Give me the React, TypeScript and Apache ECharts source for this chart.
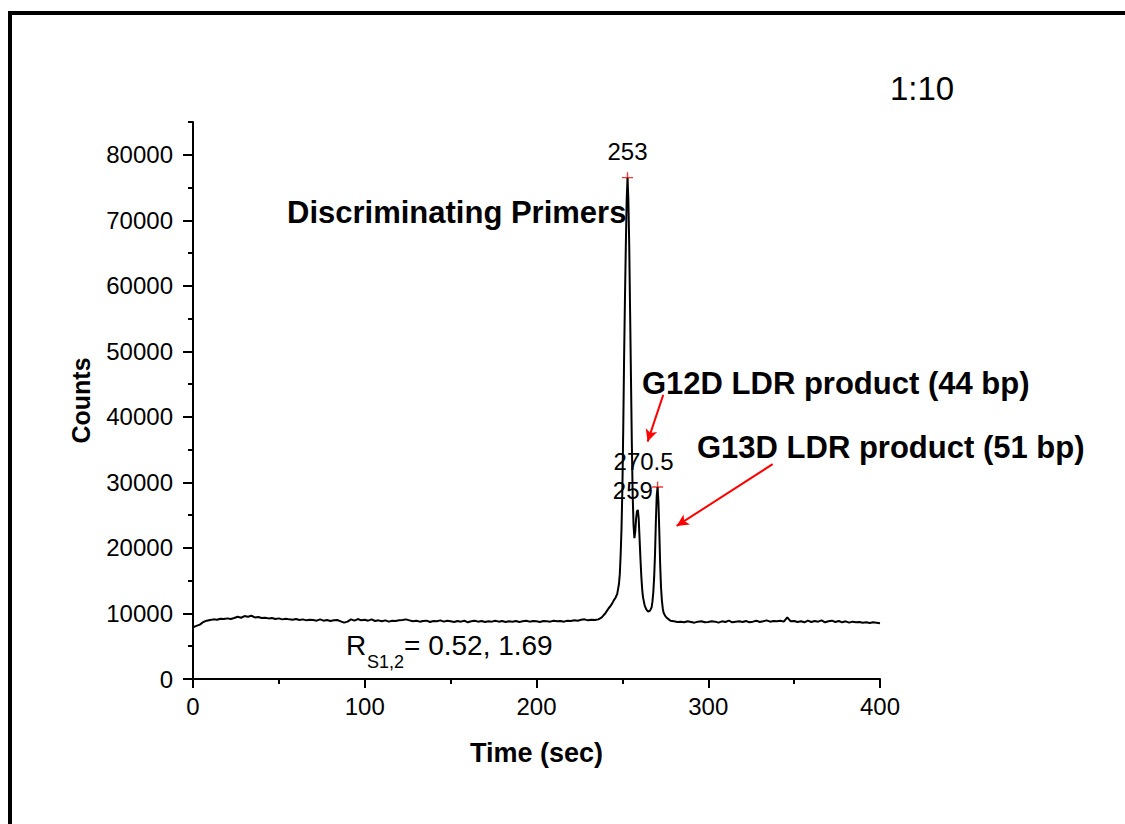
import React, { useEffect, useRef } from "react";
import * as echarts from "echarts";

// ---- data ----
const baseStep = 2;
const leftStart = 0;
const baselineLeft = [
  7900, 8100, 8300, 8700, 8900, 9000, 9100, 9050, 9200, 9150,
  9250, 9150, 9300, 9500, 9350, 9600, 9500, 9650, 9400, 9450,
  9300, 9350, 9250, 9300, 9150, 9250, 9100, 9200, 9100, 9050,
  9150, 9000, 9100, 8950, 9050, 9000, 8900, 9100, 8900, 9000,
  8850, 8950, 9000, 8800, 8600, 8750, 9100, 8900, 9150, 8950,
  9050, 8900, 9100, 8850, 8950, 8800, 8950, 8750, 8900, 8850,
  8950, 9000, 9100, 8950, 8800, 8900, 8750, 8850, 8900, 8700,
  8850, 8800, 8950, 8750, 8900, 8800, 8700, 8850, 8750, 8900,
  8650, 8800, 8900, 8750, 8850, 8700, 8800, 8750, 8900, 8750,
  8850, 8700, 8800, 8750, 8850, 8700, 8800, 8900, 8750, 8850,
  8800, 8700, 8850, 8800, 8750, 8900, 8800, 8850, 8750, 8900,
  8850, 8950, 8900, 9050, 9100, 8950, 9050, 9000,
];

const peakTimes = [
  236, 237, 238, 239, 240, 241, 242, 243, 244, 245, 246, 247, 248,
  248.5, 249, 249.5, 250, 250.5, 251, 251.5, 252, 252.5, 253, 253.5, 254, 254.5,
  255, 255.5, 256, 256.5, 257, 257.5, 258, 258.5, 259, 259.5, 260, 260.5, 261, 261.5, 262,
  263, 264, 265, 266, 267,
  267.5, 268, 268.5, 269, 269.5, 270, 270.5, 271, 271.5, 272, 272.5, 273, 273.5, 274,
  275, 276, 277, 278,
];
const peakCounts = [
  9100, 9250, 9400, 9700, 10000, 10400, 10800, 11100, 11500, 12000, 12400, 13000, 14500,
  16000, 19000, 23000, 29000, 38000, 49000, 58000, 66000, 73000, 76500, 73000, 66000, 56000,
  46000, 36000, 28000, 23500, 21500, 22500, 24500, 25600, 25800, 24500, 21500, 18500, 15800, 13800, 12500,
  11200, 10600, 10300, 10400, 10900,
  11800, 13200, 15500, 19000, 24000, 28000, 29300, 27000, 22500, 17500, 14000, 12000, 10800, 10100,
  9600, 9300, 9100, 8900,
];

const rightStart = 280;
const baselineRight = [
  8800, 8700, 8750, 8650, 8800, 8700, 8600, 8750, 8800, 8650,
  8700, 8800, 8750, 8600, 8800, 8700, 8900, 8650, 8750, 8800,
  8700, 8850, 8650, 8750, 8900, 8700, 8800, 8950, 8750, 8850,
  8800, 8900, 8750, 9400, 8800, 8850, 8700, 8800, 8650, 8900,
  8700, 8850, 8750, 8950, 8650, 8800, 8900, 8700, 8850, 8650,
  8800, 8600, 8750, 8650, 8700, 8600, 8650, 8550, 8650, 8600,
  8500,
];

const markedTimes = [253, 270.5];
const markedCounts = [76500, 29300];
const markedLabels = ["253", "270.5"];
const noteTime = 259;
const noteCount = 25800;
const noteLabel = "259";

const yTickValues = [0, 10000, 20000, 30000, 40000, 50000, 60000, 70000, 80000];

const arrowFrom = [
  [273.8, 43360],
  [337.5, 32780],
];
const arrowTo = [
  [264.7, 36230],
  [281.6, 23360],
];

const FONT = "'Liberation Sans', Arial, Helvetica, sans-serif";

export default function App() {
  const ref = useRef<HTMLDivElement>(null);

  useEffect(() => {
    document.body.style.margin = "0";
    const chart = echarts.init(ref.current as HTMLDivElement, null, { renderer: "svg" });

    const lineData = [
      ...baselineLeft.map((v, i) => [leftStart + i * baseStep, v]),
      ...peakTimes.map((t, i) => [t, peakCounts[i]]),
      ...baselineRight.map((v, i) => [rightStart + i * baseStep, v]),
    ];

    const labelOffsets = [
      [0, -26],
      [-14, -25],
    ];

    const plusPath = "path://M4.4,0H5.6V10H4.4ZM0,4.4H10V5.6H0Z";

    const labelBase = {
      show: true,
      position: "inside",
      color: "#000000",
      textBorderWidth: 0,
      textBorderColor: "transparent",
      opacity: 1,
      fontSize: 24,
      fontFamily: FONT,
    };

    chart.setOption({
      animation: false,
      backgroundColor: "#ffffff",
      textStyle: { fontFamily: FONT },
      grid: { left: 193, right: 245, top: 122, bottom: 145 },
      xAxis: {
        type: "value",
        min: 0,
        max: 400,
        interval: 100,
        axisLine: { show: true, onZero: false, lineStyle: { color: "#000", width: 2 } },
        axisTick: { show: true, length: 9, lineStyle: { color: "#000", width: 2 } },
        minorTick: { show: true, splitNumber: 2, length: 5, lineStyle: { color: "#000", width: 2 } },
        splitLine: { show: false },
        minorSplitLine: { show: false },
        axisLabel: { color: "#000", fontSize: 24, fontFamily: FONT, margin: 15 },
        name: "Time (sec)",
        nameLocation: "middle",
        nameGap: 60,
        nameTextStyle: { color: "#000", fontSize: 27, fontWeight: "bold", fontFamily: FONT },
      },
      yAxis: [
        {
          type: "value",
          position: "left",
          min: 0,
          max: 85000,
          interval: 5000,
          axisLine: { show: true, lineStyle: { color: "#000", width: 2 } },
          axisTick: { show: true, length: 5, lineStyle: { color: "#000", width: 2 } },
          axisLabel: { show: false },
          splitLine: { show: false },
        },
        {
          type: "value",
          position: "left",
          min: 0,
          max: 85000,
          interval: 10000,
          axisLine: { show: false },
          axisTick: {
            show: true,
            length: 10,
            customValues: yTickValues,
            lineStyle: { color: "#000", width: 2 },
          },
          axisLabel: {
            color: "#000",
            fontSize: 24,
            fontFamily: FONT,
            margin: 20,
            customValues: yTickValues,
            formatter: (v: number) => String(v),
          },
          splitLine: { show: false },
          name: "Counts",
          nameLocation: "middle",
          nameRotate: 90,
          nameGap: 100,
          nameTextStyle: { color: "#000", fontSize: 25, fontWeight: "bold", fontFamily: FONT },
        },
      ],
      series: [
        {
          name: "signal",
          type: "line",
          yAxisIndex: 0,
          data: lineData,
          showSymbol: false,
          symbol: "none",
          smooth: false,
          lineStyle: { color: "#000", width: 2 },
          silent: true,
          markLine: {
            silent: true,
            animation: false,
            symbol: ["none", "arrow"],
            symbolSize: [9, 12],
            lineStyle: { color: "#ff0000", width: 2, type: "solid" },
            label: { show: false },
            emphasis: { disabled: true },
            data: arrowFrom.map((f, i) => [{ coord: f }, { coord: arrowTo[i] }]),
          },
        },
        {
          name: "peaks",
          type: "scatter",
          yAxisIndex: 0,
          symbol: plusPath,
          symbolSize: 11,
          itemStyle: { color: "#ff0000" },
          silent: true,
          data: markedTimes.map((t, i) => ({
            value: [t, markedCounts[i]],
            label: { ...labelBase, formatter: markedLabels[i], offset: labelOffsets[i] },
          })),
        },
        {
          name: "note",
          type: "scatter",
          yAxisIndex: 0,
          symbol: "circle",
          symbolSize: 2,
          itemStyle: { color: "rgba(0,0,0,0)" },
          silent: true,
          data: [
            {
              value: [noteTime, noteCount],
              label: { ...labelBase, formatter: noteLabel, offset: [-5, -19] },
            },
          ],
        },
      ],
      graphic: [
        {
          type: "polyline",
          silent: true,
          shape: { points: [[10, 830], [10, 13], [1130, 13]] },
          style: { stroke: "#000", lineWidth: 4, fill: "none" },
        },
        {
          type: "text",
          x: 890,
          y: 88,
          style: { text: "1:10", fill: "#000", font: `33px ${FONT}`, textVerticalAlign: "middle" },
        },
        {
          type: "text",
          x: 287,
          y: 212,
          style: {
            text: "Discriminating Primers",
            fill: "#000",
            font: `bold 31px ${FONT}`,
            textVerticalAlign: "middle",
          },
        },
        {
          type: "text",
          x: 642,
          y: 383,
          style: {
            text: "G12D LDR product (44 bp)",
            fill: "#000",
            font: `bold 31px ${FONT}`,
            textVerticalAlign: "middle",
          },
        },
        {
          type: "text",
          x: 697,
          y: 447,
          style: {
            text: "G13D LDR product (51 bp)",
            fill: "#000",
            font: `bold 31px ${FONT}`,
            textVerticalAlign: "middle",
          },
        },
        {
          type: "text",
          x: 346,
          y: 645,
          style: { text: "R", fill: "#000", font: `28px ${FONT}`, textVerticalAlign: "middle" },
        },
        {
          type: "text",
          x: 367,
          y: 662,
          style: { text: "S1,2", fill: "#000", font: `18px ${FONT}`, textVerticalAlign: "middle" },
        },
        {
          type: "text",
          x: 404,
          y: 645,
          style: {
            text: "= 0.52, 1.69",
            fill: "#000",
            font: `28px ${FONT}`,
            textVerticalAlign: "middle",
          },
        },
      ],
    });

    return () => {
      chart.dispose();
    };
  }, []);

  return <div ref={ref} style={{ width: 1125, height: 824 }} />;
}
